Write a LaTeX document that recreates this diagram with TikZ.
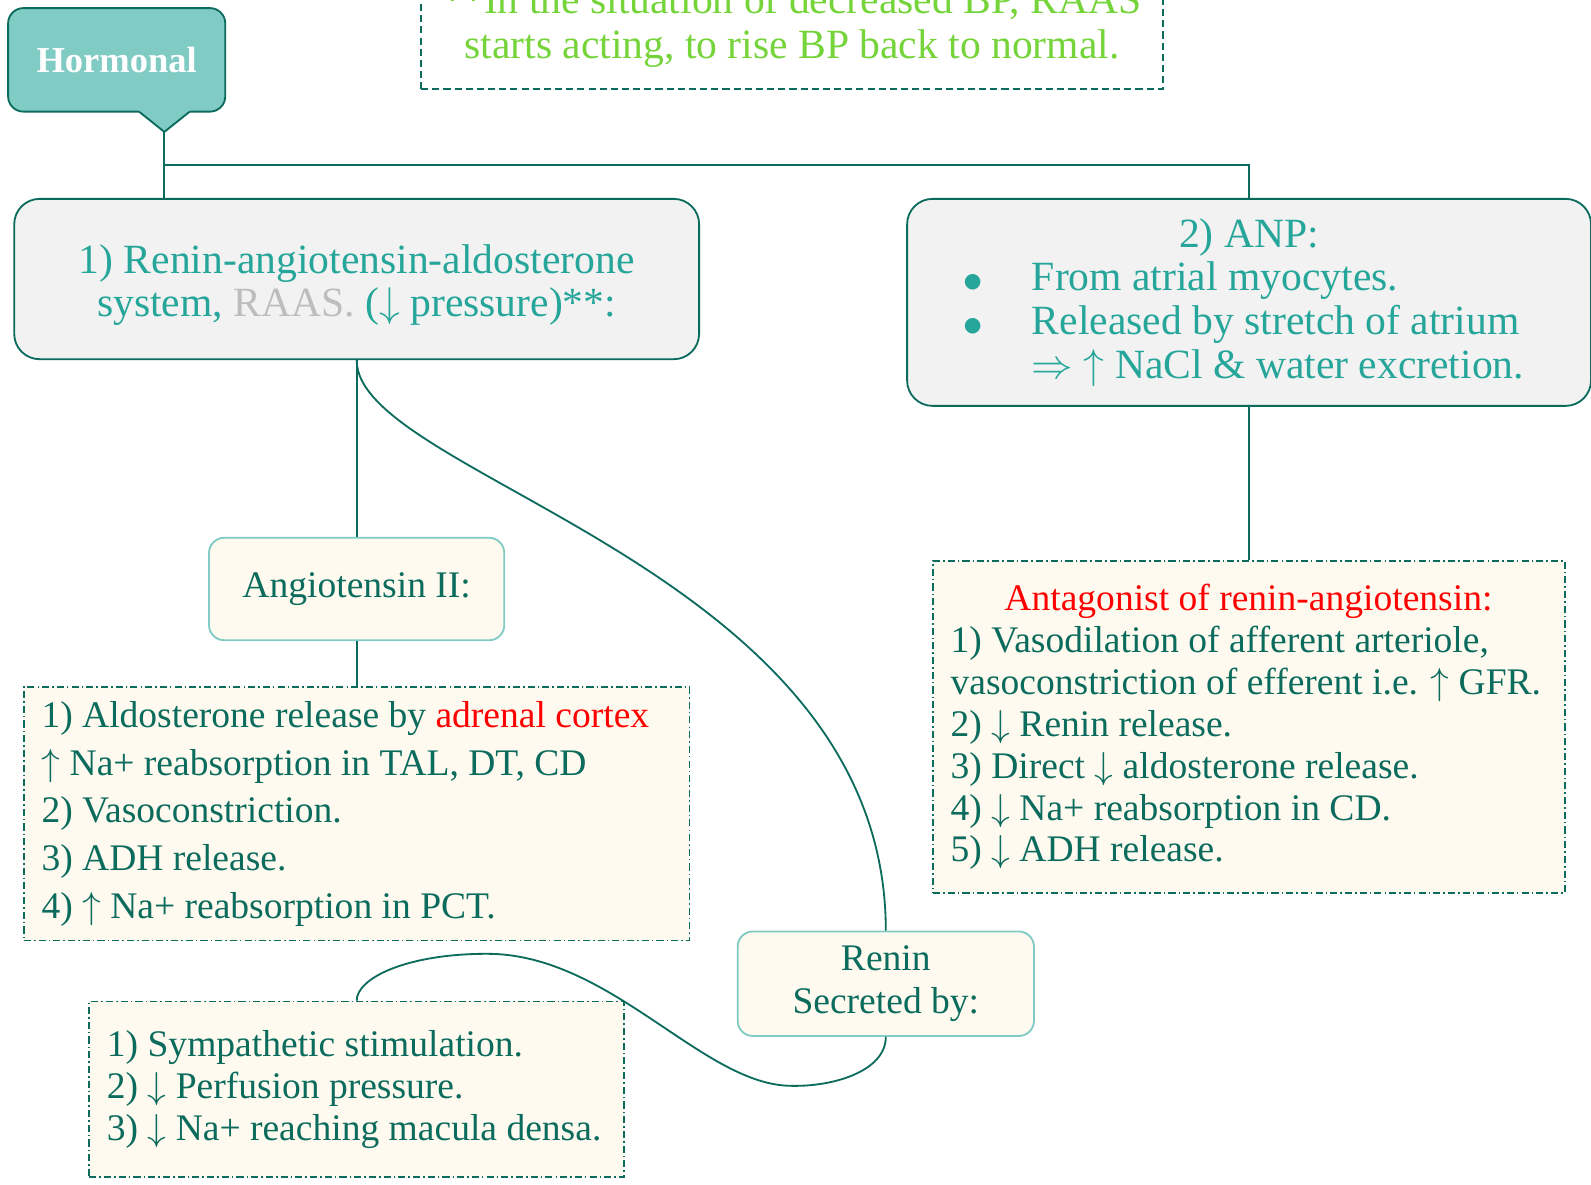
\documentclass[tikz,border=0pt]{standalone}
\usepackage{fontspec}
\setmainfont{Liberation Serif}
\newfontfamily\symfont{DejaVu Sans}
\DeclareFontShape{OMS}{cmsy}{m}{n}{<->cmsy10}{}
\definecolor{dteal}{HTML}{0B6B5D}
\definecolor{mteal}{HTML}{26A69A}
\definecolor{lteal}{HTML}{80CBC4}
\definecolor{cream}{HTML}{FFFAEF}
\definecolor{lgray}{HTML}{F2F2F2}
\definecolor{rgray}{HTML}{BDBDBD}
\definecolor{bgreen}{HTML}{76D43B}
\definecolor{ared}{HTML}{FF0000}
\newcommand{\uarr}{\ensuremath{\uparrow}}
\newcommand{\darr}{\ensuremath{\downarrow}}
\newcommand{\rarr}{\ensuremath{\Rightarrow}}
\newcommand{\bdot}{\raisebox{3pt}{\fontsize{20}{20}\selectfont\symfont ●}}
\tikzset{
  conn/.style={draw=dteal, line width=1.8pt},
  hbox/.style={draw=dteal, line width=1.8pt, fill=lteal, rounded corners=15pt, text=white, font=\fontsize{36}{40}\selectfont\bfseries},
  mainbox/.style={draw=dteal, line width=1.8pt, fill=lgray, rounded corners=25pt, text=mteal, font=\fontsize{41}{43}\selectfont},
  subbox/.style={draw=lteal, line width=1.8pt, fill=cream, rounded corners=15pt, text=dteal, font=\fontsize{37}{42}\selectfont, align=center},
  listbox/.style={draw=dteal, line width=1.6pt, fill=cream, dash pattern=on 7pt off 3pt on 1.5pt off 3pt},
  listtext/.style={inner sep=0pt, anchor=west, align=left, text=dteal},
  notebox/.style={draw=dteal, line width=1.6pt, dash pattern=on 7pt off 4pt, text=bgreen, align=center, font=\fontsize{41}{44}\selectfont}
}
\begin{document}
\begin{tikzpicture}[x=1pt,y=-1pt]
\useasboundingbox (0,0) rectangle (1568,1167);
\fill[white] (0,0) rectangle (1568,1167);

% top note
\node[notebox, minimum width=731pt, minimum height=125pt] (note) at (780.5,25.5)
  {**In the situation of decreased BP, RAAS\\starts acting, to rise BP back to normal.};

% Hormonal callout
\node[hbox, minimum width=214pt, minimum height=102pt] (hormonal) at (115,59) {Hormonal};
\fill[lteal] (136,106) -- (188,106) -- (187,110) -- (162,130) -- (137,110) -- cycle;
\draw[conn, line join=miter] (137,110) -- (162,130) -- (187,110);
\coordinate (htip) at (162,130);
\coordinate (hjoin) at (162,163);

% main boxes
\node[mainbox, align=center, minimum width=675pt, minimum height=158pt] (raas) at (351.5,275)
  {\rule{0pt}{40pt}1) Renin-angiotensin-aldosterone\\system, {\color{rgray}RAAS.} (\darr{} pressure)**:};
\node[mainbox, align=left, minimum width=674pt, minimum height=204pt] (anp) at (1231,298)
  {\makebox[562pt]{2) ANP:}\\
   \makebox[67pt][l]{\bdot}From atrial myocytes.\\
   \makebox[67pt][l]{\bdot}Released by stretch of atrium\\
   \hspace*{67pt}\rarr{} \uarr{} NaCl \& water excretion.};

% sub boxes
\node[subbox, minimum width=291pt, minimum height=101pt] (ang) at (351.5,580.5) {Angiotensin II:};
\node[subbox, minimum width=292pt, minimum height=103pt] (renin) at (873,969.5) {Renin\\Secreted by:};

% list boxes
\node[listbox, minimum width=656pt, minimum height=250pt] (lbox) at (351.5,802) {};
\node[listtext, font=\fontsize{37}{47}\selectfont] (ltext) at ([xshift=18pt]lbox.west)
  {1) Aldosterone release by {\color{ared}adrenal cortex}\\
   \uarr{} Na+ reabsorption in TAL, DT, CD\\
   2) Vasoconstriction.\\
   3) ADH release.\\
   4) \uarr{} Na+ reabsorption in PCT.};

\node[listbox, minimum width=623pt, minimum height=327pt] (rbox) at (1231,716.5) {};
\node[listtext, font=\fontsize{37}{41.3}\selectfont] (rtext) at ([xshift=18pt]rbox.west)
  {\makebox[587pt]{\color{ared}Antagonist of renin-angiotensin:}\\
   1) Vasodilation of afferent arteriole,\\
   vasoconstriction of efferent i.e. \uarr{} GFR.\\
   2) \darr{} Renin release.\\
   3) Direct \darr{} aldosterone release.\\
   4) \darr{} Na+ reabsorption in CD.\\
   5) \darr{} ADH release.};

\node[listbox, minimum width=527pt, minimum height=173pt] (bbox) at (351.5,1073.5) {};
\node[listtext, font=\fontsize{37}{41.5}\selectfont] (btext) at ([xshift=18pt]bbox.west)
  {1) Sympathetic stimulation.\\
   2) \darr{} Perfusion pressure.\\
   3) \darr{} Na+ reaching macula densa.};

% connectors
\draw[conn] (htip) -- (htip |- raas.north);
\draw[conn] (hjoin) -| (anp.north);
\draw[conn] (raas.south) -- (ang.north);
\draw[conn] (ang.south) -- (lbox.north);
\draw[conn] (anp.south) -- (rbox.north);
\draw[conn] (raas.south) .. controls +(0,116) and +(0,-358) .. (renin.north);
\coordinate (cb1) at (776,1070);
\coordinate (cb2) at (480,940);
\draw[conn] (renin.south) .. controls +(0,34) and +(44,2) .. (cb1)
  .. controls +(-86,-4) and +(120,0) .. (cb2)
  .. controls +(-80,0) and +(0,-22) .. (bbox.north);
\end{tikzpicture}
\end{document}
